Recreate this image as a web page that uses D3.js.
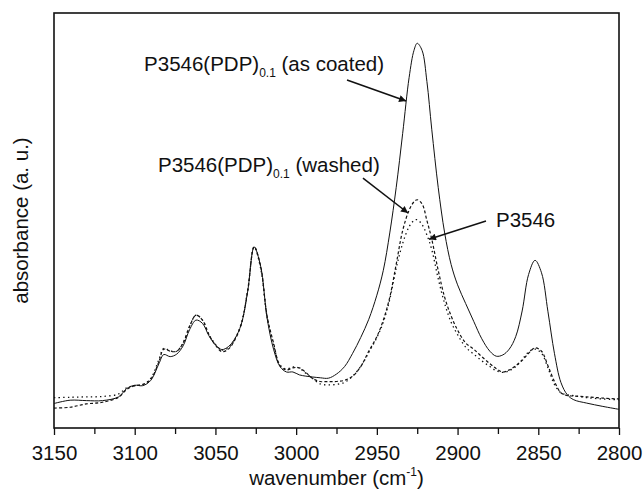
<!DOCTYPE html>
<html>
<head>
<meta charset="utf-8">
<script src="https://cdn.jsdelivr.net/npm/d3@7"></script>
<style>
html,body{margin:0;padding:0;background:#fff;}
svg{display:block;}
text{font-family:"Liberation Sans",Arial,sans-serif;fill:#111;}
</style>
</head>
<body>
<svg id="chart" width="644" height="489"></svg>
<script>
// wavenumber grid (cm^-1)
const wavenumbers = [3150,3140,3130,3120,3110,3105,3100,3095,3090,3085,3082,3078,3074,3070,3066,3062,3058,3054,3050,3046,3042,3038,3034,3030,3026,3022,3018,3014,3010,3006,3002,2998,2994,2990,2985,2980,2975,2970,2965,2960,2955,2950,2946,2942,2938,2934,2930,2927,2925,2922,2919,2916,2912,2908,2904,2900,2895,2890,2885,2880,2876,2872,2868,2864,2860,2856,2852,2848,2844,2840,2836,2832,2828,2820,2810,2800];
// P3546(PDP)0.1 as coated (solid)
const asCoated = [0.059,0.067,0.066,0.066,0.075,0.095,0.103,0.102,0.115,0.155,0.177,0.172,0.178,0.198,0.237,0.26,0.252,0.222,0.2,0.189,0.196,0.215,0.25,0.33,0.436,0.39,0.265,0.19,0.148,0.135,0.135,0.128,0.125,0.123,0.121,0.12,0.13,0.148,0.18,0.218,0.262,0.32,0.38,0.47,0.58,0.71,0.845,0.91,0.927,0.91,0.835,0.72,0.58,0.47,0.394,0.345,0.3,0.257,0.215,0.185,0.173,0.176,0.19,0.22,0.282,0.37,0.404,0.374,0.28,0.18,0.11,0.08,0.068,0.06,0.052,0.045];
// P3546(PDP)0.1 washed (dashed)
const washed = [0.048,0.05,0.058,0.062,0.074,0.093,0.102,0.105,0.118,0.16,0.19,0.185,0.185,0.205,0.245,0.272,0.26,0.225,0.2,0.184,0.19,0.212,0.25,0.33,0.437,0.39,0.27,0.205,0.15,0.14,0.145,0.145,0.134,0.12,0.112,0.112,0.112,0.115,0.125,0.148,0.185,0.22,0.26,0.315,0.395,0.476,0.525,0.545,0.55,0.54,0.5,0.455,0.38,0.315,0.27,0.236,0.205,0.19,0.172,0.155,0.143,0.135,0.14,0.15,0.163,0.18,0.193,0.185,0.15,0.112,0.085,0.078,0.077,0.075,0.072,0.07];
// P3546 (dotted)
const p3546 = [0.073,0.074,0.075,0.076,0.082,0.097,0.102,0.104,0.12,0.165,0.192,0.186,0.185,0.205,0.245,0.272,0.26,0.225,0.202,0.188,0.193,0.214,0.252,0.332,0.436,0.385,0.268,0.2,0.152,0.142,0.147,0.144,0.132,0.12,0.106,0.104,0.105,0.11,0.125,0.148,0.182,0.218,0.255,0.31,0.385,0.445,0.485,0.5,0.502,0.49,0.465,0.43,0.36,0.3,0.255,0.225,0.195,0.178,0.162,0.148,0.138,0.134,0.138,0.148,0.165,0.183,0.19,0.18,0.145,0.105,0.085,0.08,0.078,0.073,0.07,0.068];

const xTicks = [3150,3100,3050,3000,2950,2900,2850,2800];
const xMinorTicks = [3125,3075,3025,2975,2925,2875,2825];

// annotations: [label, subscript, suffix, text wn, text value, arrow from wn, from value, arrow to wn, to value]
const annLabels = ["P3546(PDP)", "P3546(PDP)", "P3546"];
const annSubs = ["0.1", "0.1", ""];
const annSuffix = [" (as coated)", " (washed)", ""];
const annTextWn = [3094.2, 3085.6, 2876.2];
const annTextVal = [0.860, 0.617, 0.484];
const annFromWn = [2968.5, 2958.6, 2882.4];
const annFromVal = [0.8386, 0.602, 0.499];
const annToWn = [2931.9, 2930.7, 2917.7];
const annToVal = [0.788, 0.518, 0.455];

const svg = d3.select("#chart");
const L = 54, R = 619, T = 13, B = 428;
const x = d3.scaleLinear().domain([3150, 2800]).range([L, R]);
const y = d3.scaleLinear().domain([0, 1]).range([B, T]);

const line = d3.line().x(d => x(d[0])).y(d => y(d[1])).curve(d3.curveCatmullRom.alpha(0.5));

const series = [
  {vals: p3546, dash: "1.4,3.2", w: 1.3},
  {vals: washed, dash: "3,2.2", w: 1.2},
  {vals: asCoated, dash: null, w: 1.0}
];
series.forEach(s => {
  svg.append("path")
    .datum(wavenumbers.map((w, i) => [w, s.vals[i]]))
    .attr("d", line)
    .attr("fill", "none")
    .attr("stroke", "#111")
    .attr("stroke-width", s.w)
    .attr("stroke-dasharray", s.dash);
});

// frame
svg.append("rect").attr("x", L).attr("y", T).attr("width", R - L).attr("height", B - T)
  .attr("fill", "none").attr("stroke", "#111").attr("stroke-width", 1.6);

// x axis
const xAxis = d3.axisBottom(x).tickValues(xTicks).tickFormat(d3.format("d")).tickSizeInner(7).tickSizeOuter(0).tickPadding(10);
const gx = svg.append("g").attr("transform", `translate(0,${B})`).call(xAxis);
gx.select(".domain").remove();
gx.selectAll(".tick line").attr("stroke", "#111").attr("stroke-width", 1.3);
gx.selectAll(".tick text").attr("font-size", 20.5).attr("font-family", "Liberation Sans, Arial, sans-serif").attr("fill", "#111");
const gxm = svg.append("g").attr("transform", `translate(0,${B})`)
  .call(d3.axisBottom(x).tickValues(xMinorTicks).tickFormat("").tickSizeInner(6).tickSizeOuter(0));
gxm.select(".domain").remove();
gxm.selectAll(".tick line").attr("stroke", "#111").attr("stroke-width", 1.3);

// axis titles
const xt = svg.append("text").attr("x", (L + R) / 2).attr("y", 485).attr("text-anchor", "middle").attr("font-size", 20.5);
xt.append("tspan").text("wavenumber (cm");
xt.append("tspan").text("-1").attr("font-size", 12).attr("dy", -9);
xt.append("tspan").text(")").attr("dy", 9);

svg.append("text").attr("transform", `translate(28,${(T + B) / 2}) rotate(-90)`)
  .attr("text-anchor", "middle").attr("font-size", 20.5).text("absorbance (a. u.)");

// arrow marker
svg.append("defs").append("marker").attr("id", "ah").attr("viewBox", "0 0 10 10")
  .attr("refX", 10).attr("refY", 5).attr("markerWidth", 11).attr("markerHeight", 7)
  .attr("markerUnits", "userSpaceOnUse").attr("orient", "auto")
  .append("path").attr("d", "M0,0 L10,5 L0,10 Z").attr("fill", "#111");

annLabels.forEach((lab, i) => {
  const t = svg.append("text").attr("x", x(annTextWn[i])).attr("y", y(annTextVal[i])).attr("font-size", 20.5);
  t.append("tspan").text(lab);
  if (annSubs[i]) {
    t.append("tspan").text(annSubs[i]).attr("font-size", 12).attr("dy", 6);
    t.append("tspan").text(annSuffix[i]).attr("dy", -6);
  }
  svg.append("line")
    .attr("x1", x(annFromWn[i])).attr("y1", y(annFromVal[i]))
    .attr("x2", x(annToWn[i])).attr("y2", y(annToVal[i]))
    .attr("stroke", "#111").attr("stroke-width", 1.5).attr("marker-end", "url(#ah)");
});
</script>
</body>
</html>
